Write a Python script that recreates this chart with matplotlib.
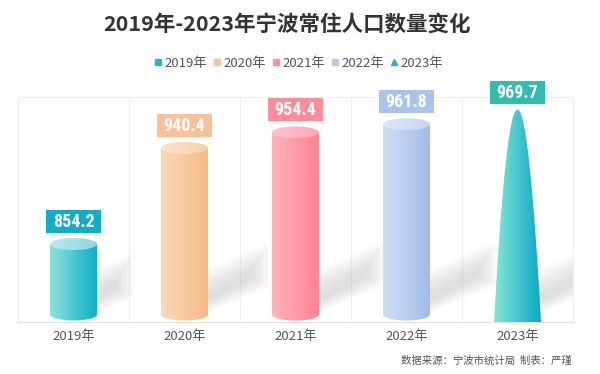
import numpy as np
import matplotlib
matplotlib.use("Agg")
import matplotlib.pyplot as plt
from matplotlib.patches import PathPatch, Rectangle, Polygon
from matplotlib.path import Path
from matplotlib.lines import Line2D
from matplotlib.colors import to_rgb
import matplotlib.font_manager as fm

plt.rcParams['font.family'] = ['Noto Sans CJK SC', 'DejaVu Sans']

# ---- data ----
years = ["2019年", "2020年", "2021年", "2022年", "2023年"]
values = [854.2, 940.4, 954.4, 961.8, 969.7]
title = "2019年-2023年宁波常住人口数量变化"
source = "数据来源：宁波市统计局  制表：严瑾"

# ---- styles ----
grad_left = ["#8ee3dc", "#fad8b8", "#ffb3bd", "#d0def5", "#86e6d6"]
grad_right = ["#0eaec6", "#f8ba88", "#ff8292", "#9fbde8", "#0aa9c6"]
top_left = ["#b8ecec", "#fce3cc", "#ffc4cc", "#dee8f8", None]
top_right = ["#8cd8e0", "#f9cfa8", "#ffa8b4", "#c4d6f2", None]
label_bg = ["#14abc4", "#f9c09a", "#ff8c9a", "#a9c4ec", "#33bdb0"]
legend_col = ["#22b8c8", "#f9c39c", "#ff8f9c", "#b4cbee", "#1fb3c4"]

names = {f.name for f in fm.fontManager.ttflist}
num_font = None
for cand in ['Liberation Sans Narrow', 'Roboto Condensed', 'Open Sans Condensed',
             'DejaVu Sans Condensed', 'Noto Sans Condensed', 'Arial Narrow']:
    if cand in names:
        num_font = dict(family=cand, weight='bold', fontsize=13)
        break
if num_font is None:
    if 'Roboto' in names:
        num_font = dict(family='Roboto', weight='bold', fontsize=12)
    else:
        num_font = dict(family='DejaVu Sans', weight='bold', fontsize=10.5)

W, H = 600, 374
fig = plt.figure(figsize=(W / 100, H / 100), dpi=100)
fig.patch.set_facecolor("white")
ax_l, ax_b, ax_w, ax_h = 18, 52, 555, 225
ax = fig.add_axes([ax_l / W, ax_b / H, ax_w / W, ax_h / H])

ymin, ymax = 784.2, 986.2
ax.set_xlim(-0.5, len(years) - 0.5)
ax.set_ylim(ymin, ymax)
xpx = ax_w / len(years)            # px per x unit
dy = (ymax - ymin) / ax_h          # data units per px

hw = 23.5 / xpx     # half width of bar
eh = 6.0 * dy       # half height of ellipse

# grid / spines
for k in range(len(years) + 1):
    ax.axvline(k - 0.5, color="#efefef", lw=0.8, zorder=0)
for s in ["top", "left", "right"]:
    ax.spines[s].set_color("#efefef")
    ax.spines[s].set_linewidth(0.8)
ax.spines["bottom"].set_color("#e2e2e2")
ax.spines["bottom"].set_linewidth(0.8)
ax.set_yticks([])
ax.set_xticks(range(len(years)))
ax.set_xticklabels(years, fontsize=9.5, color="#555555")
ax.tick_params(axis="x", length=0, pad=6)


def hgrad(c1, c2, n=256):
    a = np.array(to_rgb(c1)); b = np.array(to_rgb(c2))
    t = np.linspace(0, 1, n)[None, :, None]
    return a + (b - a) * t


# soft shadows
for i, v in enumerate(values):
    Hpx = (v - ymin) / dy
    L = 18 + 0.25 * Hpx
    xr = i + hw
    nl = 9
    for k in range(nl):
        s = k * 2.2
        T = 44 - 2 * s
        x0 = xr - 20 / xpx
        x1 = xr + (L - s) / xpx
        yb0 = ymin + (1 + s * 0.5) * dy
        yb1 = ymin + (1 + 0.42 * (L + 20) + s * 0.5) * dy
        poly = Polygon([(x0, yb0), (x1, yb1), (x1, yb1 + max(T, 4) * dy),
                        (x0, yb0 + max(T, 4) * dy)],
                       closed=True, facecolor="#b4b4b4", edgecolor="none",
                       alpha=0.05, zorder=1)
        ax.add_patch(poly)

# bars
for i, v in enumerate(values):
    xc = i
    if i < 4:
        ybot = ymin + eh + 1.5 * dy
        th = np.linspace(np.pi, 2 * np.pi, 60)
        bottom = np.column_stack([xc + hw * np.cos(th), ybot + eh * np.sin(th)])
        verts = np.vstack([[[xc - hw, v]], bottom, [[xc + hw, v]], [[xc - hw, v]]])
        body = PathPatch(Path(verts), facecolor="none", edgecolor="none",
                         transform=ax.transData)
        ax.add_patch(body)
        im = ax.imshow(hgrad(grad_left[i], grad_right[i]),
                       extent=[xc - hw, xc + hw, ymin, v], aspect="auto",
                       origin="lower", zorder=3, interpolation="bilinear")
        im.set_clip_path(body)
        tt = np.linspace(0, 2 * np.pi, 100)
        ev = np.column_stack([xc + hw * np.cos(tt), v + eh * np.sin(tt)])
        top = PathPatch(Path(ev), facecolor="none", edgecolor="none",
                        transform=ax.transData)
        ax.add_patch(top)
        im2 = ax.imshow(hgrad(top_left[i], top_right[i]),
                        extent=[xc - hw, xc + hw, v - eh, v + eh], aspect="auto",
                        origin="lower", zorder=4, interpolation="bilinear")
        im2.set_clip_path(top)
        ytop_vis = v + eh
    else:
        ytip = v + eh
        t = np.linspace(0, 1, 120)
        yy = ymin + t * (ytip - ymin)
        half = hw * np.sqrt(1 - t)
        left = np.column_stack([xc - half, yy])
        right = np.column_stack([xc + half, yy])[::-1]
        verts = np.vstack([left, right, left[:1]])
        body = PathPatch(Path(verts), facecolor="none", edgecolor="none",
                         transform=ax.transData)
        ax.add_patch(body)
        im = ax.imshow(hgrad(grad_left[i], grad_right[i]),
                       extent=[xc - hw, xc + hw, ymin, ytip], aspect="auto",
                       origin="lower", zorder=3, interpolation="bilinear")
        im.set_clip_path(body)
        ytop_vis = ytip
    bh = 23 * dy
    bw = 27.5 / xpx
    yb = ytop_vis + 5 * dy
    ax.add_patch(Rectangle((xc - bw, yb), 2 * bw, bh, facecolor=label_bg[i],
                           edgecolor="none", zorder=5, clip_on=False))
    ax.text(xc, yb + bh / 2, f"{v:.1f}", ha="center", va="center",
            color="white", zorder=6, clip_on=False, **num_font)

ax.set_xlim(-0.5, len(years) - 0.5)
ax.set_ylim(ymin, ymax)

fig.text(287 / W, 1 - 24 / H, title, ha="center", va="center", fontsize=15.5,
         fontweight="bold", color="#333333")

handles = []
for i, y in enumerate(years):
    mk = "^" if i == 4 else "s"
    handles.append(Line2D([], [], marker=mk, color=legend_col[i], linestyle="none",
                          markersize=4.5))
leg = fig.legend(handles, years, loc="center", bbox_to_anchor=(0.497, 1 - 63 / H),
                 ncol=5, frameon=False, fontsize=9.5, handletextpad=0.15,
                 columnspacing=0.4, handlelength=0.7, borderaxespad=0)
for txt in leg.get_texts():
    txt.set_color("#555555")

fig.text(572 / W, 1 - 361 / H, source, ha="right", va="center", fontsize=7.5,
         color="#555555")

fig.savefig("out.png", dpi=100, facecolor="white")
